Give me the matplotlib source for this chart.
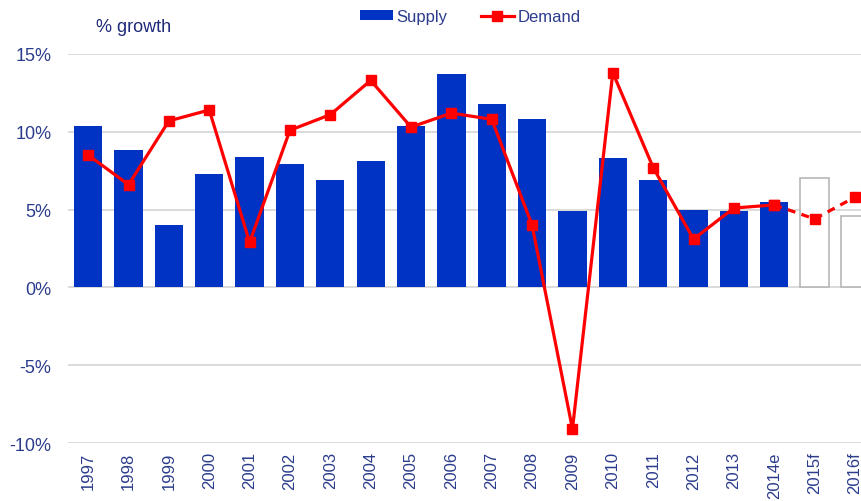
import matplotlib.pyplot as plt
import numpy as np

plt.rcParams['font.family'] = ['Liberation Sans', 'DejaVu Sans']

years = ["1997", "1998", "1999", "2000", "2001", "2002", "2003", "2004", "2005",
         "2006", "2007", "2008", "2009", "2010", "2011", "2012", "2013", "2014e",
         "2015f", "2016f"]
supply = [10.4, 8.8, 4.0, 7.3, 8.4, 7.9, 6.9, 8.1, 10.4, 13.7, 11.8, 10.8, 4.9,
          8.3, 6.9, 5.0, 4.9, 5.5, 7.0, 4.6]
demand = [8.5, 6.6, 10.7, 11.4, 2.9, 10.1, 11.1, 13.3, 10.3, 11.2, 10.8, 4.0,
          -9.1, 13.8, 7.7, 3.1, 5.1, 5.3, 4.4, 5.8]
n_forecast = 2  # last two years are forecasts

blue = "#0033C4"
red = "#FF0000"
navy = "#2B3C8C"

x = np.arange(len(years))
n_act = len(years) - n_forecast

fig = plt.figure(figsize=(8.61, 5.02), dpi=100)
ax = fig.add_axes([0.079, 0.1155, 0.921, 0.775])

bars = ax.bar(x[:n_act], supply[:n_act], width=0.7, color=blue, zorder=2,
              label="Supply")
ax.bar(x[n_act:], supply[n_act:], width=0.7, facecolor="white",
       edgecolor="#B8B8B8", linewidth=1.2, zorder=2)

# actual demand solid, estimate onwards dashed
line, = ax.plot(x[:n_act], demand[:n_act], color=red, lw=2.3, marker="s", ms=7,
                zorder=3, label="Demand")
ax.plot(x[n_act - 1:], demand[n_act - 1:], color=red, lw=2.3, ls=(0, (2.5, 2)),
        marker="s", ms=7, zorder=3)

ax.set_ylim(-10, 15)
ax.set_xlim(-0.5, 19.15)
ax.set_yticks([-10, -5, 0, 5, 10, 15])
ax.set_yticklabels([f"{v}%" for v in [-10, -5, 0, 5, 10, 15]])
ax.set_xticks(x)
ax.set_xticklabels(years, rotation=90)
ax.grid(axis="y", color="#D4D4D4", lw=1.2, zorder=0)
ax.set_axisbelow(True)
for s in ax.spines.values():
    s.set_visible(False)
ax.tick_params(axis="both", length=0)
ax.tick_params(axis="y", labelsize=13, labelcolor=navy, pad=12)
ax.tick_params(axis="x", labelsize=12, labelcolor=navy, pad=6)

fig.text(0.112, 0.945, "% growth", fontsize=13, color="#1E2A7A", va="center")
fig.legend([bars, line], ["Supply", "Demand"], loc="center",
           bbox_to_anchor=(0.546, 0.965), ncol=2, frameon=False,
           fontsize=12, handlelength=2.0, handleheight=0.5, columnspacing=2.0,
           handletextpad=0.2, labelcolor=navy)

fig.savefig("out.png", dpi=100)
